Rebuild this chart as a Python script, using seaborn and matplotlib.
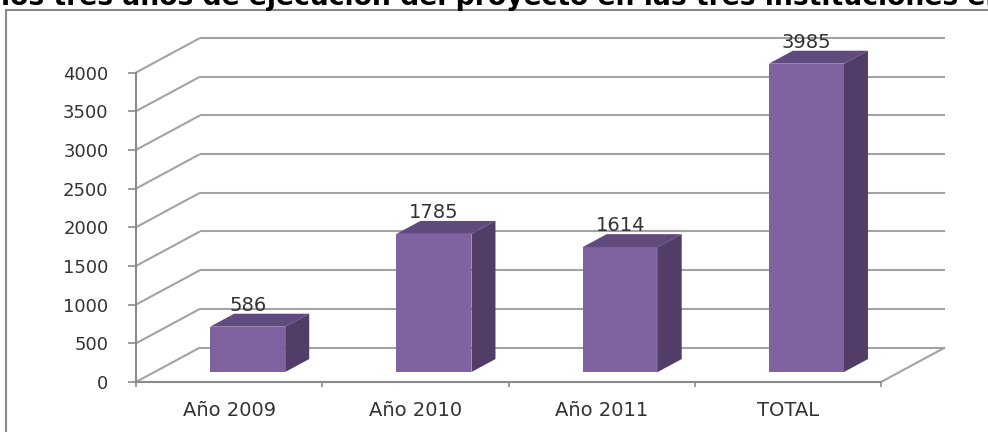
import numpy as np
import pandas as pd
import seaborn as sns
import matplotlib.pyplot as plt
from matplotlib.patches import Polygon
from matplotlib.lines import Line2D

# ---- data ----
categories = ["Año 2009", "Año 2010", "Año 2011", "TOTAL"]
values = [586, 1785, 1614, 3985]
y_ticks = [0, 500, 1000, 1500, 2000, 2500, 3000, 3500, 4000]
title = "los tres años de ejecución del proyecto en las tres instituciones entrevistadas"

# ---- style ----
FRONT = "#7F62A0"
TOP = "#614A7D"
SIDE = "#513D68"
GRID = "#a3a3a3"
AXIS = "#8a8a8a"
TEXT = "#333333"

sns.set_theme(style="white")
plt.rcParams["font.family"] = ["DejaVu Sans"]

W, H = 988, 432
fig = plt.figure(figsize=(W / 100, H / 100), dpi=100)
fig.patch.set_facecolor("white")

# front plane of the pseudo-3D box, in pixels
x_left, x_right = 136, 881
y_bottom, y_top = 382, 72.5
ax = fig.add_axes([x_left / W, 1 - y_bottom / H,
                   (x_right - x_left) / W, (y_bottom - y_top) / H])
ax.set_facecolor("none")

df = pd.DataFrame({"categoria": categories, "valor": values})
sns.barplot(data=df, x="categoria", y="valor", color=FRONT, saturation=1,
            width=0.403, ax=ax, zorder=3, linewidth=0)

ax.set_xlim(-0.5, len(categories) - 0.5)
ax.set_ylim(0, 4000)

# depth of the box expressed in data units (64 px right, 34.5 px up)
px_per_cat = (x_right - x_left) / len(categories)
px_per_val = (y_bottom - y_top) / 4000
DX = 64 / px_per_cat
DY = 34.5 / px_per_val
f0 = 0.29    # depth where bar fronts sit
bd = 0.375   # bar depth fraction

gkw = dict(color=GRID, lw=1.5, zorder=1, clip_on=False, solid_capstyle="butt")
x0, x1 = -0.5, len(categories) - 0.5
for v in y_ticks:
    ax.add_line(Line2D([x0 + DX, x1 + DX], [v + DY, v + DY], **gkw))   # back wall
    ax.add_line(Line2D([x0, x0 + DX], [v, v + DY], **gkw))             # side wall
ax.add_line(Line2D([x1, x1 + DX], [0, DY], **gkw))                     # floor edge

# turn flat bars into boxes
for patch, v in zip(ax.patches, values):
    bx = patch.get_x() + f0 * DX
    bw = patch.get_width()
    by = f0 * DY
    patch.set_x(bx)
    patch.set_y(by)
    patch.set_clip_on(False)
    top = by + v
    ddx, ddy = bd * DX, bd * DY
    ax.add_patch(Polygon([(bx, top), (bx + bw, top), (bx + bw + ddx, top + ddy),
                          (bx + ddx, top + ddy)], closed=True, facecolor=TOP,
                         edgecolor="none", zorder=3, clip_on=False))
    ax.add_patch(Polygon([(bx + bw, by), (bx + bw, top), (bx + bw + ddx, top + ddy),
                          (bx + bw + ddx, by + ddy)], closed=True, facecolor=SIDE,
                         edgecolor="none", zorder=3, clip_on=False))
    ax.annotate(f"{v}", (bx + bw / 2, top + ddy), xytext=(0, 2),
                textcoords="offset points", ha="center", va="baseline",
                fontsize=14, color=TEXT, zorder=5, annotation_clip=False)

# spines and ticks
for s in ["top", "right"]:
    ax.spines[s].set_visible(False)
for s in ["left", "bottom"]:
    ax.spines[s].set_visible(True)
    ax.spines[s].set_color(AXIS)
    ax.spines[s].set_linewidth(1.5)
    ax.spines[s].set_zorder(2)

ax.set_yticks(y_ticks)
ax.set_yticklabels([str(t) for t in y_ticks])
ax.tick_params(axis="y", left=True, length=5.8, width=1.2, color=AXIS,
               pad=14, labelsize=13, labelcolor=TEXT)
ax.set_xticks(range(len(categories)))
ax.set_xticklabels(categories)
ax.tick_params(axis="x", bottom=True, length=0, pad=14, labelsize=14,
               labelcolor=TEXT)
ax.set_xticks(np.arange(len(categories) + 1) - 0.5, minor=True)
ax.tick_params(axis="x", which="minor", bottom=True, length=3.5, width=1.2,
               color=AXIS)
ax.set_xlabel("")
ax.set_ylabel("")
ax.grid(False)

# chart frame and heading
fig.add_artist(Line2D([6 / W, 1], [1 - 10 / H, 1 - 10 / H], color="#888888", lw=1.5))
fig.add_artist(Line2D([6 / W, 6 / W], [0, 1 - 10 / H], color="#888888", lw=1.5))
fig.text(1 / W, 1 - 5 / H, title, fontsize=19.2, fontweight="bold",
         color="black", ha="left", va="baseline")

fig.savefig("out.png", dpi=100, facecolor="white")
